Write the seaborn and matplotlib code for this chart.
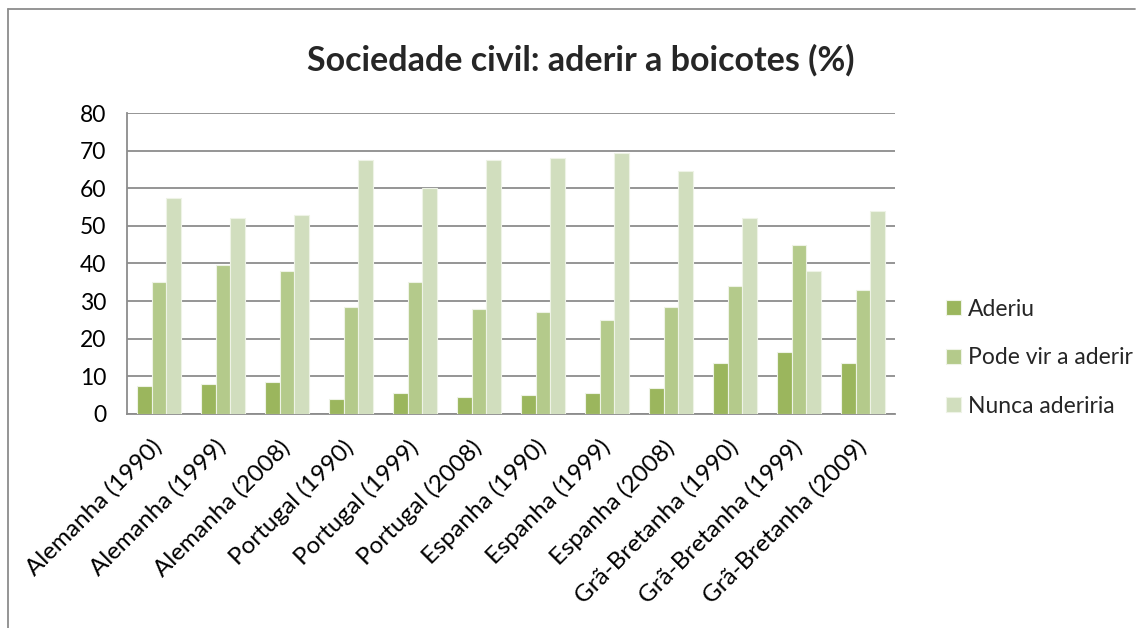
import pandas as pd
import matplotlib.pyplot as plt
import matplotlib.transforms as mtransforms
import seaborn as sns
from matplotlib.lines import Line2D

# data
paises = ['Alemanha (1990)', 'Alemanha (1999)', 'Alemanha (2008)',
          'Portugal (1990)', 'Portugal (1999)', 'Portugal (2008)',
          'Espanha (1990)', 'Espanha (1999)', 'Espanha (2008)',
          'Grã-Bretanha (1990)', 'Grã-Bretanha (1999)', 'Grã-Bretanha (2009)']
aderiu = [7.5, 8, 8.5, 4, 5.5, 4.5, 5, 5.5, 7, 13.5, 16.5, 13.5]
pode_vir = [35, 39.5, 38, 28.5, 35, 28, 27, 25, 28.5, 34, 45, 33]
nunca = [57.5, 52, 53, 67.5, 60, 67.5, 68, 69.5, 64.5, 52, 38, 54]
series = ['Aderiu', 'Pode vir a aderir', 'Nunca aderiria']

df = pd.DataFrame({'pais': paises, series[0]: aderiu,
                   series[1]: pode_vir, series[2]: nunca})
df = df.melt(id_vars='pais', var_name='serie', value_name='valor')

sns.set_style('white')
plt.rcParams['font.family'] = ['Lato', 'DejaVu Sans']

fig = plt.figure(figsize=(11.43, 6.28), dpi=100)
ax = fig.add_axes([0.111, 0.341, 0.672, 0.479])

cores = ['#9BB65D', '#B4CA8B', '#D1DEBE']
sns.barplot(data=df, x='pais', y='valor', hue='serie', palette=cores,
            saturation=1, width=0.69, ax=ax, edgecolor='#eef3e6',
            linewidth=0.8, zorder=3)

ax.set_ylim(0, 80)
ax.set_yticks(range(0, 81, 10))
ax.set_xlim(-0.5, len(paises) - 0.5)
ax.yaxis.grid(True, color='#8c8c8c', linewidth=1.3, zorder=0)
ax.set_axisbelow(True)
ax.set_xlabel('')
ax.set_ylabel('')
for s in ['top', 'right']:
    ax.spines[s].set_visible(False)
for s in ['left', 'bottom']:
    ax.spines[s].set_color('#8c8c8c')
    ax.spines[s].set_linewidth(1.3)
ax.tick_params(axis='y', labelsize=16.5, colors='black', length=0, pad=15)
ax.tick_params(axis='x', labelsize=17.5, colors='black', length=0, pad=16)
shift = mtransforms.ScaledTranslation(-8 / 100, 0, fig.dpi_scale_trans)
for lab in ax.get_xticklabels():
    lab.set_rotation(45)
    lab.set_ha('right')
    lab.set_rotation_mode('anchor')
    lab.set_transform(lab.get_transform() + shift)

fig.text(0.508, 0.904, 'Sociedade civil: aderir a boicotes (%)',
         fontsize=24.5, fontweight='bold', ha='center', va='center')

ax.legend(loc='center left', bbox_to_anchor=(1.055, 0.186), frameon=False,
          fontsize=16.5, handlelength=0.65, handleheight=0.65,
          handletextpad=0.3, labelspacing=1.2, borderaxespad=0)

# chart area frame
fig.add_artist(Line2D([8 / 1143, 8 / 1143], [0, 1 - 9 / 628],
                      color='#8c8c8c', lw=1.3))
fig.add_artist(Line2D([8 / 1143, 1135 / 1143], [1 - 9 / 628, 1 - 9 / 628],
                      color='#8c8c8c', lw=1.3))

fig.savefig('out.png', dpi=100)
